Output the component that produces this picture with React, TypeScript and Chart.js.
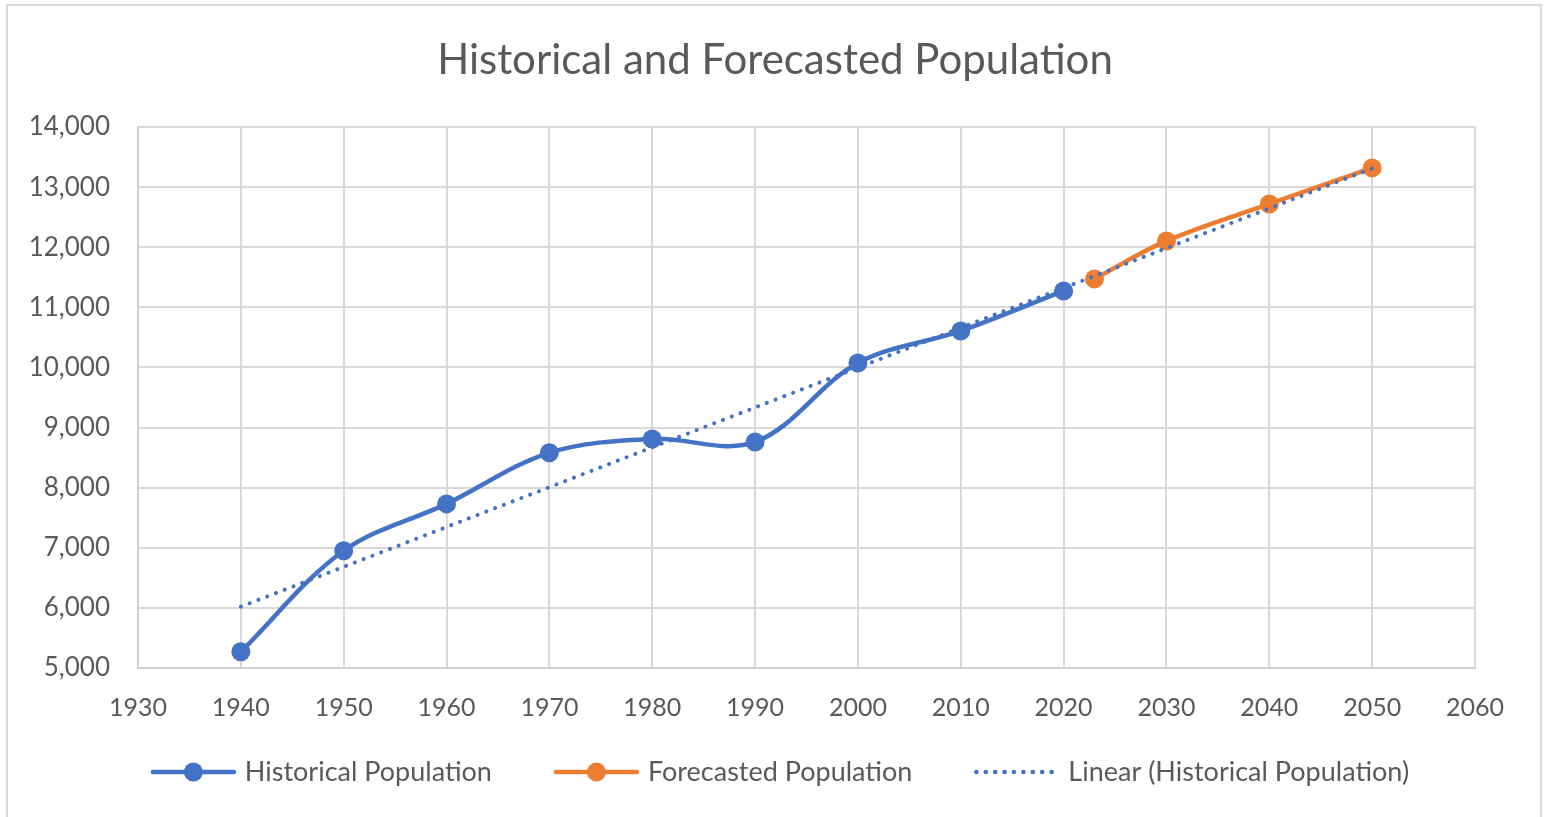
import React, { useEffect, useRef } from "react";
import { Chart, registerables } from "chart.js";

Chart.register(...registerables);

const historicalYears = [1940, 1950, 1960, 1970, 1980, 1990, 2000, 2010, 2020];
const historicalValues = [5270, 6950, 7730, 8580, 8810, 8760, 10075, 10607, 11273];
const forecastYears = [2023, 2030, 2040, 2050];
const forecastValues = [11473, 12105, 12720, 13320];
const trendYears = [1940, 2050];
const trendValues = [6020, 13310];

const titleText = "Historical and Forecasted Population";
const legendLabels = ["Historical Population", "Forecasted Population", "Linear (Historical Population)"];

const BLUE = "#4472C4";
const ORANGE = "#ED7D31";
const TEXT = "#595959";
const GRID = "#d9d9d9";
const FONT = "Lato, 'Open Sans', sans-serif";

const decorPlugin = {
  id: "decor",
  beforeDraw(chart: any) {
    const ctx = chart.ctx;
    ctx.save();
    ctx.fillStyle = "#ffffff";
    ctx.fillRect(0, 0, chart.width, chart.height);
    ctx.strokeStyle = GRID;
    ctx.lineWidth = 2;
    ctx.strokeRect(7, 5, 1534, 830);
    ctx.fillStyle = TEXT;
    ctx.font = `42px ${FONT}`;
    ctx.textAlign = "center";
    ctx.textBaseline = "middle";
    ctx.fillText(titleText, 775, 60);
    ctx.restore();
  },
  afterDraw(chart: any) {
    const ctx = chart.ctx;
    ctx.save();
    ctx.font = `27px ${FONT}`;
    const sym = 85;
    const gapText = 9;
    const gapItem = 62;
    const widths = legendLabels.map((l) => ctx.measureText(l).width);
    const total = widths.reduce((a, w) => a + sym + gapText + w, 0) + gapItem * (legendLabels.length - 1);
    let x = 780 - total / 2;
    const y = 772;
    const styles = [
      { color: BLUE, marker: true, dotted: false },
      { color: ORANGE, marker: true, dotted: false },
      { color: BLUE, marker: false, dotted: true },
    ];
    legendLabels.forEach((label, i) => {
      const s = styles[i];
      ctx.strokeStyle = s.color;
      ctx.lineWidth = 4.5;
      ctx.lineCap = "round";
      ctx.setLineDash(s.dotted ? [0.1, 9.3] : []);
      ctx.beginPath();
      ctx.moveTo(x + 2, y);
      ctx.lineTo(x + sym - 2, y);
      ctx.stroke();
      ctx.setLineDash([]);
      if (s.marker) {
        ctx.fillStyle = s.color;
        ctx.beginPath();
        ctx.arc(x + sym / 2, y, 9.5, 0, Math.PI * 2);
        ctx.fill();
      }
      ctx.fillStyle = TEXT;
      ctx.textAlign = "left";
      ctx.textBaseline = "middle";
      ctx.fillText(label, x + sym + gapText, y);
      x += sym + gapText + widths[i] + gapItem;
    });
    ctx.restore();
  },
};

export default function App() {
  const ref = useRef<HTMLCanvasElement | null>(null);
  useEffect(() => {
    if (!ref.current) return;
    const chart = new Chart(ref.current, {
      type: "line",
      data: {
        datasets: [
          {
            label: legendLabels[2],
            data: trendYears.map((x, i) => ({ x, y: trendValues[i] })),
            borderColor: BLUE,
            borderWidth: 4,
            borderDash: [0.1, 9.3],
            borderCapStyle: "round",
            pointRadius: 0,
            tension: 0,
            order: 0,
          },
          {
            label: legendLabels[0],
            data: historicalYears.map((x, i) => ({ x, y: historicalValues[i] })),
            borderColor: BLUE,
            backgroundColor: BLUE,
            borderWidth: 4.5,
            pointRadius: 9.5,
            pointBorderWidth: 0,
            pointBackgroundColor: BLUE,
            tension: 0.35,
            order: 2,
          },
          {
            label: legendLabels[1],
            data: forecastYears.map((x, i) => ({ x, y: forecastValues[i] })),
            borderColor: ORANGE,
            backgroundColor: ORANGE,
            borderWidth: 4.5,
            pointRadius: 9.5,
            pointBorderWidth: 0,
            pointBackgroundColor: ORANGE,
            tension: 0.35,
            order: 1,
          },
        ],
      },
      options: {
        responsive: false,
        animation: false,
        layout: { autoPadding: false, padding: { top: 127, right: 69, bottom: 0, left: 0 } },
        plugins: { legend: { display: false }, title: { display: false }, tooltip: { enabled: false } },
        scales: {
          x: {
            type: "linear",
            min: 1930,
            max: 2060,
            afterFit: (s: any) => { s.height = 149; },
            ticks: {
              stepSize: 10,
              color: TEXT,
              font: { family: FONT, size: 25 },
              padding: 25,
              maxRotation: 0,
              callback: (v: any) => String(v),
            },
            grid: { color: GRID, lineWidth: 2, drawTicks: false },
            border: { color: "#d0d0d0", width: 2 },
          },
          y: {
            type: "linear",
            min: 5000,
            max: 14000,
            afterFit: (s: any) => { s.width = 138; },
            ticks: {
              stepSize: 1000,
              color: TEXT,
              font: { family: FONT, size: 26 },
              padding: 28,
              callback: (v: any) => Number(v).toLocaleString("en-US"),
            },
            grid: { color: GRID, lineWidth: 2, drawTicks: false },
            border: { color: "#d0d0d0", width: 2 },
          },
        },
      },
      plugins: [decorPlugin],
    } as any);
    return () => chart.destroy();
  }, []);
  return (
    <canvas
      ref={ref}
      width={1544}
      height={817}
      style={{ position: "absolute", left: 0, top: 0, width: 1544, height: 817 }}
    />
  );
}
